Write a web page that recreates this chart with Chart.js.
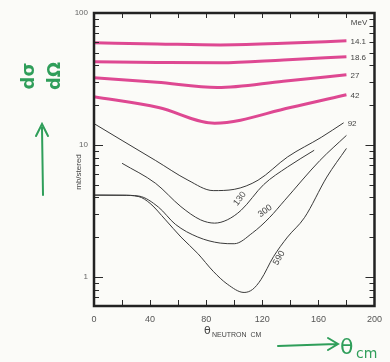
<!DOCTYPE html>
<html>
<head>
<meta charset="utf-8">
<script src="https://cdn.jsdelivr.net/npm/chart.js@4/dist/chart.umd.min.js"></script>
<style>
  html, body { margin: 0; padding: 0; background: #fbfbf8; }
  #wrap { width: 390px; height: 362px; position: relative; }
</style>
</head>
<body>
<div id="wrap"><canvas id="c" width="390" height="362"></canvas></div>
<script>
// angles (deg, CM) and cross sections (mb/sterad)
const energies = ['14.1', '18.6', '27', '42', '92', '130', '300', '590'];

const theta141 = [0, 45, 90, 135, 180];
const sigma141 = [59.4, 58.3, 57.3, 59.0, 61.5];

const theta186 = [0, 45, 90, 135, 180];
const sigma186 = [42.7, 42.2, 41.9, 44.0, 46.6];

const theta27 = [0, 45, 88, 135, 180];
const sigma27 = [32.3, 29.8, 27.2, 30.4, 34.0];

const theta42 = [0, 46, 86, 140, 180];
const sigma42 = [23.2, 19.2, 14.6, 19.2, 24.0];

const theta92 = [0, 20, 44, 67, 85, 100, 117, 138, 162, 178];
const sigma92 = [14.5, 10.8, 7.6, 5.4, 4.5, 4.6, 5.4, 8.1, 11.4, 14.7];

const theta130 = [20, 44, 62, 76, 86, 95, 105, 121, 138, 157];
const sigma130 = [7.25, 5.1, 3.4, 2.7, 2.55, 2.7, 3.2, 5.0, 6.8, 9.1];

const theta300 = [0, 20, 32, 46, 58, 74, 90, 100, 113, 125, 136, 161, 180];
const sigma300 = [4.16, 4.15, 4.09, 3.37, 2.5, 2.0, 1.8, 1.78, 2.15, 2.8, 3.8, 7.6, 11.8];

const theta590 = [0, 20, 32, 40, 51, 62, 74, 85, 95, 107, 113, 119, 128, 138, 150, 166, 180];
const sigma590 = [4.16, 4.15, 4.05, 3.6, 2.7, 2.0, 1.5, 1.1, 0.88, 0.76, 0.8, 0.95, 1.42, 2.0, 2.8, 5.7, 9.4];

const xTicks = [0, 40, 80, 120, 160, 200];
const yTicks = [1, 10, 100];

// labels written along the curves: [text, theta, sigma, rotation deg]
const curveLabels = [
  ['130', 104, 3.9, -52],
  ['300', 122, 3.15, -36],
  ['590', 132, 1.39, -60]
];

const pink = '#de4892';
const ink = '#3a3a3a';

const toPoints = (xs, ys) => xs.map((x, i) => ({ x: x, y: ys[i] }));

const series = [
  [theta141, sigma141, true],
  [theta186, sigma186, true],
  [theta27, sigma27, true],
  [theta42, sigma42, true],
  [theta92, sigma92, false],
  [theta130, sigma130, false],
  [theta300, sigma300, false],
  [theta590, sigma590, false]
];

const datasets = series.map((s, i) => ({
  label: energies[i],
  data: toPoints(s[0], s[1]),
  borderColor: s[2] ? pink : ink,
  borderWidth: s[2] ? 3 : 1,
  pointRadius: 0,
  cubicInterpolationMode: 'monotone',
  fill: false
}));

// frame, inward ticks, text annotations
const decorPlugin = {
  id: 'decor',
  afterDatasetsDraw(chart) {
    const ctx = chart.ctx;
    const a = chart.chartArea;
    const xs = chart.scales.x;
    const ys = chart.scales.y;
    ctx.save();

    // inward ticks
    ctx.strokeStyle = '#2a2a2a';
    ctx.lineWidth = 1;
    ctx.beginPath();
    for (let t = 20; t < 200; t += 20) {
      const px = Math.round(xs.getPixelForValue(t)) + 0.5;
      ctx.moveTo(px, a.bottom); ctx.lineTo(px, a.bottom - 6);
      ctx.moveTo(px, a.top); ctx.lineTo(px, a.top + 5);
    }
    for (let d = 0.1; d < 100; d *= 10) {
      for (let m = 1; m < 10; m++) {
        const v = d * m;
        if (v < ys.min || v > ys.max) continue;
        const py = Math.round(ys.getPixelForValue(v)) + 0.5;
        const len = m === 1 ? 9 : 5;
        ctx.moveTo(a.left, py); ctx.lineTo(a.left + len, py);
        ctx.moveTo(a.right, py); ctx.lineTo(a.right - len, py);
      }
    }
    ctx.stroke();

    // frame
    ctx.strokeStyle = '#222';
    ctx.lineWidth = 2.5;
    ctx.strokeRect(a.left, a.top, a.right - a.left, a.bottom - a.top);

    // energy labels at the right ends
    ctx.fillStyle = '#444';
    ctx.font = '8px "Liberation Sans", Arial, sans-serif';
    ctx.textAlign = 'left';
    ctx.textBaseline = 'middle';
    chart.data.datasets.forEach((ds, i) => {
      if (i === 5 || i === 6 || i === 7) return;
      const last = ds.data[ds.data.length - 1];
      const px = xs.getPixelForValue(last.x);
      const py = ys.getPixelForValue(last.y);
      ctx.fillText(ds.label, px + 4, py + 1);
    });
    ctx.textAlign = 'center';
    ctx.fillText('MeV', xs.getPixelForValue(189), ys.getPixelForValue(85));

    curveLabels.forEach(l => {
      ctx.save();
      ctx.translate(xs.getPixelForValue(l[1]), ys.getPixelForValue(l[2]));
      ctx.rotate(l[3] * Math.PI / 180);
      ctx.font = '9px "Liberation Sans", Arial, sans-serif';
      ctx.fillText(l[0], 0, 0);
      ctx.restore();
    });

    // axis titles
    ctx.save();
    ctx.translate(79, 172);
    ctx.rotate(-Math.PI / 2);
    ctx.font = '8px "Liberation Sans", Arial, sans-serif';
    ctx.fillText('mb/stered', 0, 0);
    ctx.restore();

    ctx.textAlign = 'left';
    ctx.font = '11px "DejaVu Sans", sans-serif';
    ctx.fillText('θ', 204, 331);
    ctx.font = '7px "Liberation Sans", Arial, sans-serif';
    ctx.fillText('NEUTRON  CM', 212, 335);

    // green handwritten notes
    ctx.strokeStyle = '#2f9e5a';
    ctx.fillStyle = '#2f9e5a';
    ctx.lineWidth = 2;
    ctx.lineCap = 'round';
    ctx.save();
    ctx.translate(40, 76);
    ctx.rotate(-Math.PI / 2);
    ctx.font = 'bold 18px "DejaVu Sans", sans-serif';
    ctx.textAlign = 'center';
    ctx.fillText('dσ', 0, -11);
    ctx.fillText('dΩ', 0, 15);
    ctx.restore();

    ctx.beginPath();
    ctx.moveTo(43, 195); ctx.lineTo(42, 128);
    ctx.moveTo(36, 136); ctx.lineTo(42, 124); ctx.lineTo(48, 136);
    ctx.stroke();

    ctx.beginPath();
    ctx.moveTo(278, 346); ctx.lineTo(336, 344);
    ctx.moveTo(328, 338); ctx.lineTo(338, 344); ctx.lineTo(328, 350);
    ctx.stroke();
    ctx.font = '22px "DejaVu Sans", sans-serif';
    ctx.textAlign = 'left';
    ctx.fillText('θ', 340, 348);
    ctx.font = '14px "DejaVu Sans", sans-serif';
    ctx.fillText('cm', 356, 354);

    ctx.restore();
  }
};

new Chart(document.getElementById('c'), {
  type: 'line',
  data: { datasets: datasets },
  options: {
    responsive: false,
    animation: false,
    layout: { padding: { top: 13, right: 13, left: 0, bottom: 0 } },
    plugins: { legend: { display: false }, tooltip: { enabled: false } },
    scales: {
      x: {
        type: 'linear',
        min: 0,
        max: 200,
        afterBuildTicks: s => { s.ticks = xTicks.map(v => ({ value: v })); },
        afterFit: s => { s.height = 56; },
        grid: { display: false, drawTicks: false },
        border: { display: false },
        ticks: {
          padding: 8,
          color: '#555',
          maxRotation: 0,
          font: { size: 9, family: '"Liberation Sans", Arial, sans-serif' }
        }
      },
      y: {
        type: 'logarithmic',
        min: 0.6,
        max: 100,
        afterBuildTicks: s => { s.ticks = yTicks.map(v => ({ value: v })); },
        afterFit: s => { s.width = 94; },
        grid: { display: false, drawTicks: false },
        border: { display: false },
        ticks: {
          padding: 6,
          color: '#666',
          font: { size: 8, family: '"Liberation Sans", Arial, sans-serif' },
          callback: v => String(v)
        }
      }
    }
  },
  plugins: [decorPlugin]
});
</script>
</body>
</html>
